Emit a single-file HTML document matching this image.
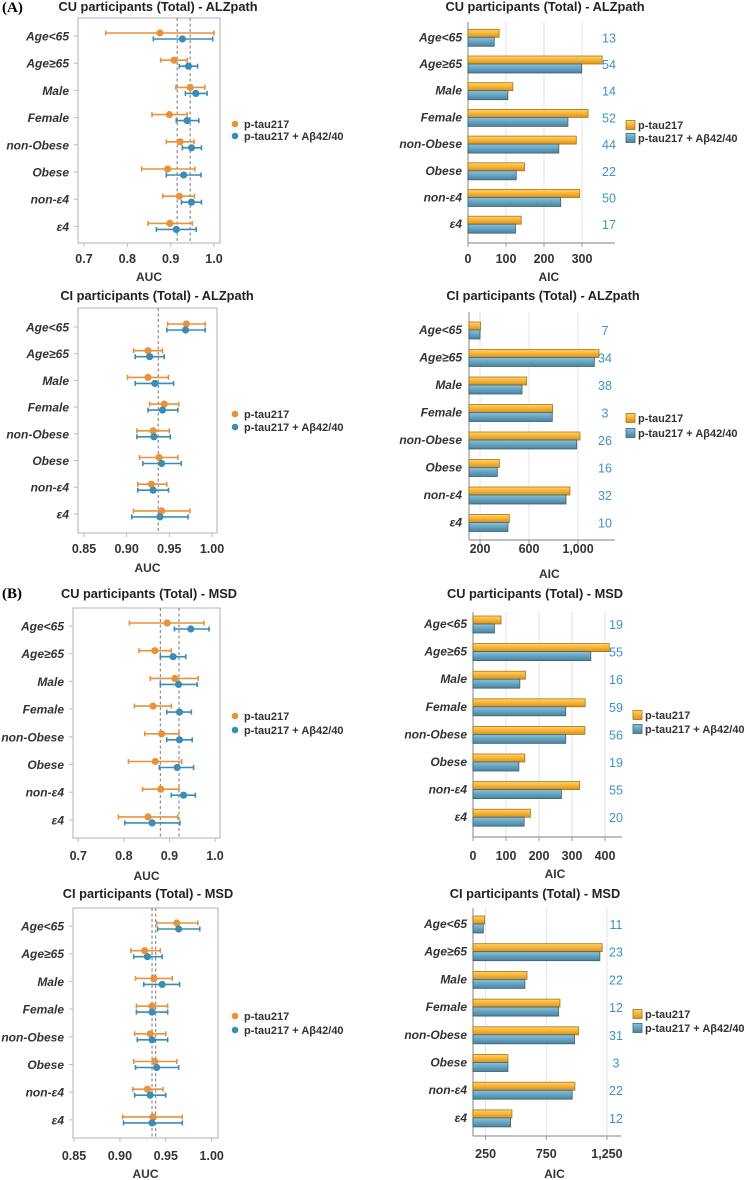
<!DOCTYPE html>
<html><head><meta charset="utf-8">
<style>
html,body{margin:0;padding:0;background:#fff;}
svg{display:block;font-family:"Liberation Sans",Arial,sans-serif;}
</style></head>
<body>
<svg id="fig" width="747" height="1180" viewBox="0 0 747 1180" xmlns="http://www.w3.org/2000/svg">
<defs>
<linearGradient id="gO" x1="0" y1="0" x2="0" y2="1"><stop offset="0" stop-color="#FFD36A"/><stop offset="0.5" stop-color="#F6B335"/><stop offset="1" stop-color="#D9921A"/></linearGradient>
<linearGradient id="gB" x1="0" y1="0" x2="0" y2="1"><stop offset="0" stop-color="#8EC2DA"/><stop offset="0.5" stop-color="#66A2BE"/><stop offset="1" stop-color="#4A839E"/></linearGradient>
</defs>
<text x="2" y="12" font-family="Liberation Serif,serif" font-weight="bold" font-size="15">(A)</text>
<text x="2" y="598" font-family="Liberation Serif,serif" font-weight="bold" font-size="15">(B)</text>
</svg>
<script>
const categories = ['Age<65','Age\u226565','Male','Female','non-Obese','Obese','non-\u03b54','\u03b54'];
const seriesNames = ['p-tau217','p-tau217 + A\u03b242/40'];

// Forest panel 1: CU ALZpath AUC
const f1OrangeAuc = [0.875,0.908,0.945,0.897,0.922,0.893,0.920,0.898];
const f1OrangeLo  = [0.750,0.877,0.912,0.857,0.890,0.833,0.882,0.848];
const f1OrangeHi  = [1.000,0.938,0.979,0.938,0.954,0.956,0.955,0.950];
const f1BlueAuc   = [0.927,0.941,0.958,0.938,0.948,0.930,0.948,0.913];
const f1BlueLo    = [0.860,0.920,0.934,0.913,0.927,0.890,0.925,0.867];
const f1BlueHi    = [0.997,0.962,0.984,0.965,0.971,0.970,0.971,0.959];
const f1Ref = [0.915,0.945];
const f1Ticks = [0.7,0.8,0.9,1.0];
const f1TickLabels = ['0.7','0.8','0.9','1.0'];

// Forest panel 2: CI ALZpath AUC
const f2OrangeAuc = [0.970,0.925,0.925,0.944,0.931,0.938,0.929,0.941];
const f2OrangeLo  = [0.948,0.908,0.901,0.927,0.912,0.915,0.913,0.908];
const f2OrangeHi  = [0.992,0.942,0.949,0.961,0.950,0.960,0.947,0.974];
const f2BlueAuc   = [0.969,0.927,0.933,0.942,0.932,0.941,0.931,0.939];
const f2BlueLo    = [0.947,0.910,0.910,0.925,0.912,0.919,0.913,0.906];
const f2BlueHi    = [0.992,0.944,0.955,0.960,0.951,0.964,0.949,0.972];
const f2Ref = [0.937];
const f2Ticks = [0.85,0.90,0.95,1.00];
const f2TickLabels = ['0.85','0.90','0.95','1.00'];

// Forest panel 3: CU MSD AUC
const f3OrangeAuc = [0.895,0.868,0.912,0.864,0.883,0.869,0.881,0.853];
const f3OrangeLo  = [0.812,0.833,0.858,0.823,0.846,0.810,0.841,0.788];
const f3OrangeHi  = [0.976,0.904,0.963,0.904,0.921,0.927,0.921,0.918];
const f3BlueAuc   = [0.947,0.908,0.920,0.922,0.922,0.917,0.931,0.862];
const f3BlueLo    = [0.911,0.880,0.880,0.894,0.894,0.878,0.904,0.802];
const f3BlueHi    = [0.987,0.936,0.961,0.948,0.950,0.953,0.957,0.923];
const f3Ref = [0.880,0.921];
const f3Ticks = [0.7,0.8,0.9,1.0];
const f3TickLabels = ['0.7','0.8','0.9','1.0'];

// Forest panel 4: CI MSD AUC
const f4OrangeAuc = [0.962,0.927,0.937,0.935,0.933,0.938,0.930,0.936];
const f4OrangeLo  = [0.940,0.912,0.917,0.918,0.916,0.915,0.914,0.903];
const f4OrangeHi  = [0.985,0.944,0.957,0.952,0.950,0.962,0.947,0.968];
const f4BlueAuc   = [0.964,0.930,0.946,0.935,0.935,0.940,0.933,0.935];
const f4BlueLo    = [0.941,0.915,0.926,0.918,0.919,0.917,0.916,0.904];
const f4BlueHi    = [0.987,0.946,0.965,0.952,0.952,0.964,0.950,0.968];
const f4Ref = [0.935,0.939];
const f4Ticks = [0.85,0.90,0.95,1.00];
const f4TickLabels = ['0.85','0.90','0.95','1.00'];

// Bar panel 1: CU ALZpath AIC
const b1Orange = [82,353,118,316,285,149,294,140];
const b1Blue   = [69,299,105,263,239,127,244,125];
const b1Counts = ['13','54','14','52','44','22','50','17'];
const b1Ticks = [0,100,200,300];
const b1TickLabels = ['0','100','200','300'];

// Bar panel 2: CI ALZpath AIC
const b2Orange = [205,1171,581,793,1016,358,934,439];
const b2Blue   = [200,1133,543,790,989,341,902,428];
const b2Counts = ['7','34','38','3','26','16','32','10'];
const b2Ticks = [200,600,1000];
const b2TickLabels = ['200','600','1,000'];

// Bar panel 3: CU MSD AIC
const b3Orange = [85,413,159,340,339,157,323,174];
const b3Blue   = [65,357,142,281,281,139,268,155];
const b3Counts = ['19','55','16','59','56','19','55','20'];
const b3Ticks = [0,100,200,300,400];
const b3TickLabels = ['0','100','200','300','400'];

// Bar panel 4: CI MSD AIC
const b4Orange = [242,1211,591,863,1016,434,986,467];
const b4Blue   = [231,1192,574,852,983,434,964,456];
const b4Counts = ['11','23','22','12','31','3','22','12'];
const b4Ticks = [250,750,1250];
const b4TickLabels = ['250','750','1,250'];

const NS='http://www.w3.org/2000/svg';
const svg=document.getElementById('fig');
const OR='#E8923A', BL='#3A8DB5';
const CAT_FS='12', LEG_FS='11', TITLE_FS='12.8';
function mk(tag,attrs,parent){const e=document.createElementNS(NS,tag);for(const k in attrs)e.setAttribute(k,attrs[k]);(parent||svg).appendChild(e);return e;}
function txt(x,y,s,attrs,parent){const t=mk('text',Object.assign({x:x,y:y},attrs),parent);t.textContent=s;return t;}

function forest(c, oM,oL,oH,bM,bL,bH, refs, ticks, tickLabels){
  const g=mk('g',{});
  
  
  const sx=v=>c.xa+(v-c.va)*(c.xb-c.xa)/(c.vb-c.va);
  const t=txt(c.titleX,c.titleY,c.title,{'text-anchor':'middle','font-weight':'bold','font-size':TITLE_FS,fill:'#222'},g);
  
  
  const box=mk('rect',{x:c.box[0],y:c.box[1],width:c.box[2]-c.box[0],height:c.box[3]-c.box[1],fill:'none',stroke:'#bdbdbd','stroke-width':1.2},g);
  
  
  refs.forEach(r=>{
    const l=mk('line',{x1:sx(r),x2:sx(r),y1:c.box[1],y2:c.box[3],stroke:'#777','stroke-width':1,'stroke-dasharray':'3,2.5'},g);
    
    
  });
  ticks.forEach((v,i)=>{
    mk('line',{x1:sx(v),x2:sx(v),y1:c.box[3],y2:c.box[3]+4,stroke:'#bdbdbd'},g);
    const tl=txt(sx(v),c.tickY,tickLabels[i],{'text-anchor':'middle','font-weight':'bold','font-size':'12.5',fill:'#333'},g);
    
    
  });
  const xl=txt((c.box[0]+c.box[2])/2,c.xlabY,'AUC',{'text-anchor':'middle','font-weight':'bold','font-size':'12',fill:'#333'},g);
  
  
  categories.forEach((cat,i)=>{
    const y=c.rowY+i*c.step;
    mk('line',{x1:c.box[0]-4,x2:c.box[0],y1:y+3,y2:y+3,stroke:'#bdbdbd'},g);
    const cl=txt(c.labelX,y+7.5,cat,{'text-anchor':'end','font-weight':'bold','font-style':'italic','font-size':CAT_FS,fill:'#333'},g);
    
    
    [[oM,oL,oH,OR,0],[bM,bL,bH,BL,6]].forEach(s=>{
      const yy=y+s[4];
      const e=mk('g',{},g);
      
      
      mk('line',{x1:sx(s[1][i]),x2:sx(s[2][i]),y1:yy,y2:yy,stroke:s[3],'stroke-width':1.6},e);
      mk('line',{x1:sx(s[1][i]),x2:sx(s[1][i]),y1:yy-2.5,y2:yy+2.5,stroke:s[3],'stroke-width':1.6},e);
      mk('line',{x1:sx(s[2][i]),x2:sx(s[2][i]),y1:yy-2.5,y2:yy+2.5,stroke:s[3],'stroke-width':1.6},e);
      mk('circle',{cx:sx(s[0][i]),cy:yy,r:3.6,fill:s[3]},e);
    });
  });
  seriesNames.forEach((n,k)=>{
    const le=mk('g',{},g);
    
    
    mk('circle',{cx:c.legX,cy:c.legY[k],r:3.3,fill:k?BL:OR},le);
    txt(c.legX+9,c.legY[k]+4,n,{'font-weight':'bold','font-size':LEG_FS,fill:'#333'},le);
  });
}

function bars(c, oV,bV,counts,ticks,tickLabels){
  const g=mk('g',{});
  
  
  const sx=v=>c.axisX+(v-c.v0)*c.k;
  const t=txt(c.titleX,c.titleY,c.title,{'text-anchor':'middle','font-weight':'bold','font-size':TITLE_FS,fill:'#222'},g);
  
  
  ticks.forEach((v,i)=>{
    if(sx(v)>c.axisX+1) mk('line',{x1:sx(v),x2:sx(v),y1:c.top,y2:c.bot,stroke:'#e2e2e2','stroke-width':1},g);
    mk('line',{x1:sx(v),x2:sx(v),y1:c.bot,y2:c.bot+4,stroke:'#999'},g);
    const tl=txt(sx(v),c.tickY,tickLabels[i],{'text-anchor':'middle','font-weight':'bold','font-size':'12.5',fill:'#333'},g);
    
    
  });
  mk('line',{x1:c.axisX,x2:c.axisX,y1:c.top,y2:c.bot,stroke:'#999','stroke-width':1.2},g);
  mk('line',{x1:c.axisX,x2:c.right,y1:c.bot,y2:c.bot,stroke:'#999','stroke-width':1.2},g);
  const xl=txt(c.axisX+(c.right-c.axisX)*0.55,c.xlabY,'AIC',{'text-anchor':'middle','font-weight':'bold','font-size':'12',fill:'#333'},g);
  
  
  categories.forEach((cat,i)=>{
    const y=c.rowTop+i*c.step;
    const cl=txt(c.labelX,y+12,cat,{'text-anchor':'end','font-weight':'bold','font-style':'italic','font-size':CAT_FS,fill:'#333'},g);
    
    
    const r1=mk('rect',{x:c.axisX,y:y,width:Math.max(0,sx(oV[i])-c.axisX),height:8,fill:'url(#gO)',stroke:'#A8741A','stroke-width':0.8},g);
    
    
    const r2=mk('rect',{x:c.axisX,y:y+8,width:Math.max(0,sx(bV[i])-c.axisX),height:9,fill:'url(#gB)',stroke:'#3A6478','stroke-width':0.8},g);
    
    
    const n=txt(c.numX,y+13,counts[i],{'text-anchor':'middle','font-size':'12.5',fill:'#3A95C5'},g);
    
    
  });
  seriesNames.forEach((nm,k)=>{
    const le=mk('g',{},g);
    
    
    mk('rect',{x:c.legX,y:c.legY[k]-4.5,width:9,height:9,fill:k?'url(#gB)':'url(#gO)',stroke:k?'#3A6478':'#A8741A','stroke-width':0.8},le);
    txt(c.legX+12,c.legY[k]+4,nm,{'font-weight':'bold','font-size':LEG_FS,fill:'#333'},le);
  });
}

forest({name:'forest-cu-alzpath',title:'CU participants (Total) - ALZpath',titleX:158,titleY:11,xa:84,va:0.7,xb:214,vb:1.0,box:[78,18,220,243],rowY:33,step:27.2,tickY:263,xlabY:281,labelX:69,legX:235,legY:[124,136]},
  f1OrangeAuc,f1OrangeLo,f1OrangeHi,f1BlueAuc,f1BlueLo,f1BlueHi,f1Ref,f1Ticks,f1TickLabels);
forest({name:'forest-ci-alzpath',title:'CI participants (Total) - ALZpath',titleX:157,titleY:300,xa:84,va:0.85,xb:212,vb:1.0,box:[78,308,217,533],rowY:324,step:26.7,tickY:553,xlabY:572,labelX:69,legX:235,legY:[414,427]},
  f2OrangeAuc,f2OrangeLo,f2OrangeHi,f2BlueAuc,f2BlueLo,f2BlueHi,f2Ref,f2Ticks,f2TickLabels);
forest({name:'forest-cu-msd',title:'CU participants (Total) - MSD',titleX:149,titleY:598,xa:78.3,va:0.7,xb:215,vb:1.0,box:[73,608,220,838],rowY:623,step:27.7,tickY:860,xlabY:880,labelX:64,legX:235,legY:[716,730]},
  f3OrangeAuc,f3OrangeLo,f3OrangeHi,f3BlueAuc,f3BlueLo,f3BlueHi,f3Ref,f3Ticks,f3TickLabels);
forest({name:'forest-ci-msd',title:'CI participants (Total) - MSD',titleX:148,titleY:898,xa:74,va:0.85,xb:211.7,vb:1.0,box:[73,908,218,1138],rowY:923,step:27.7,tickY:1160,xlabY:1178,labelX:64,legX:235,legY:[1016,1030]},
  f4OrangeAuc,f4OrangeLo,f4OrangeHi,f4BlueAuc,f4BlueLo,f4BlueHi,f4Ref,f4Ticks,f4TickLabels);

bars({name:'bars-cu-alzpath',title:'CU participants (Total) - ALZpath',titleX:545,titleY:11,axisX:468,v0:0,k:0.38,top:22,bot:243,right:615,rowTop:29.3,step:26.7,numX:609,labelX:462,tickY:263,xlabY:281,legX:626,legY:[125,138]},
  b1Orange,b1Blue,b1Counts,b1Ticks,b1TickLabels);
bars({name:'bars-ci-alzpath',title:'CI participants (Total) - ALZpath',titleX:543,titleY:300,axisX:469,v0:110,k:0.1225,top:312,bot:540,right:615,rowTop:322,step:27.5,numX:605,labelX:462,tickY:553,xlabY:578,legX:626,legY:[418,433]},
  b2Orange,b2Blue,b2Counts,b2Ticks,b2TickLabels);
bars({name:'bars-cu-msd',title:'CU participants (Total) - MSD',titleX:535,titleY:598,axisX:473,v0:0,k:0.33,top:612,bot:837,right:622,rowTop:616,step:27.6,numX:616,labelX:467,tickY:860,xlabY:878,legX:633,legY:[715,729]},
  b3Orange,b3Blue,b3Counts,b3Ticks,b3TickLabels);
bars({name:'bars-ci-msd',title:'CI participants (Total) - MSD',titleX:535,titleY:898,axisX:473,v0:146,k:0.1213,top:908,bot:1136,right:621,rowTop:916,step:27.7,numX:616,labelX:467,tickY:1158,xlabY:1178,legX:633,legY:[1014,1028]},
  b4Orange,b4Blue,b4Counts,b4Ticks,b4TickLabels);
</script>
</body></html>
